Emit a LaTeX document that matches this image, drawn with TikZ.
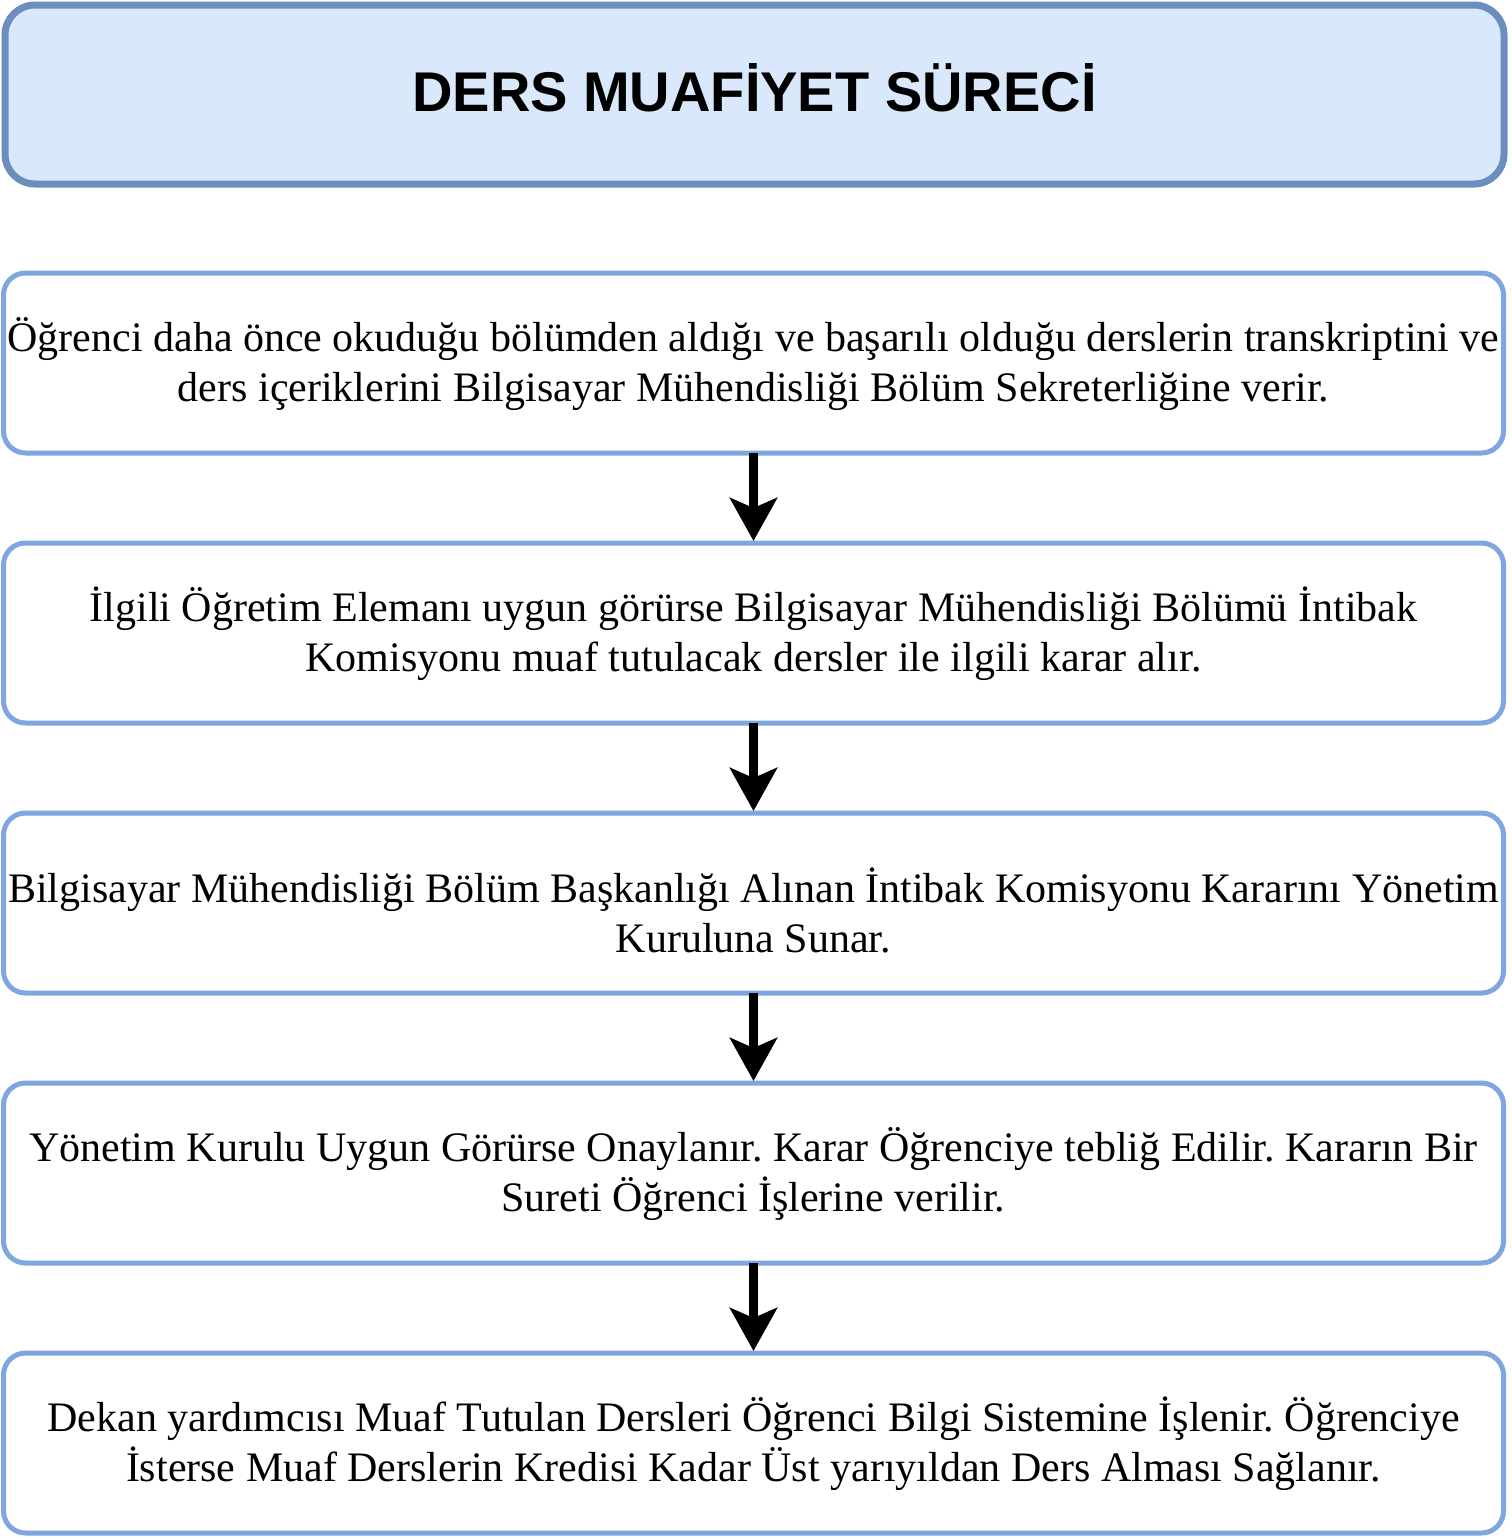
\documentclass[tikz,border=0pt]{standalone}
\usepackage{fontspec}
\setmainfont{Liberation Serif}
\newfontfamily\titlefont{Liberation Sans}
\usetikzlibrary{arrows.meta}
\definecolor{titlefill}{HTML}{DAE8FC}
\definecolor{titleline}{HTML}{6C8EBF}
\definecolor{boxline}{HTML}{7EA6E0}
\tikzset{
  titlebox/.style={draw=titleline,fill=titlefill,line width=7pt,rounded corners=30pt,
    minimum width=1499pt,minimum height=179pt,outer sep=0pt,inner sep=0pt,
    text height=40pt,text depth=7pt,
    font=\titlefont\bfseries\fontsize{56}{64}\selectfont},
  stepbox/.style={draw=boxline,fill=white,line width=5pt,rounded corners=22pt,
    minimum width=1500pt,minimum height=180pt,outer sep=0pt,inner sep=0pt,align=center,
    text height=88pt,text depth=12pt,
    font=\fontsize{42}{50}\selectfont},
  flowarrow/.style={line width=8.5pt,-{Stealth[length=43pt,width=47pt,inset=10pt]},shorten >=2pt}
}
\frenchspacing
\begin{document}
\begin{tikzpicture}[x=1pt,y=-1pt]
      \useasboundingbox (0,0) rectangle (1512,1539);
      \node[titlebox] (title) at (754.5,94.5) {DERS MUAFİYET SÜRECİ};
      \node[stepbox] (s1) at (753.5,363) {Öğrenci daha önce okuduğu bölümden aldığı ve başarılı olduğu derslerin transkriptini ve\\ders içeriklerini Bilgisayar Mühendisliği Bölüm Sekreterliğine verir.};
      \node[stepbox] (s2) at (753.5,633) {İlgili Öğretim Elemanı uygun görürse Bilgisayar Mühendisliği Bölümü İntibak\\Komisyonu muaf tutulacak dersler ile ilgili karar alır.};
      \node[stepbox,text height=99pt,text depth=1pt] (s3) at (753.5,903) {Bilgisayar Mühendisliği Bölüm Başkanlığı Alınan İntibak Komisyonu Kararını Yönetim\\Kuruluna Sunar.};
      \node[stepbox] (s4) at (753.5,1173) {Yönetim Kurulu Uygun Görürse Onaylanır. Karar Öğrenciye tebliğ Edilir. Kararın Bir\\Sureti Öğrenci İşlerine verilir.};
      \node[stepbox] (s5) at (753.5,1443) {Dekan yardımcısı Muaf Tutulan Dersleri Öğrenci Bilgi Sistemine İşlenir. Öğrenciye\\İsterse Muaf Derslerin Kredisi Kadar Üst yarıyıldan Ders Alması Sağlanır.};
      \foreach \a/\b in {s1/s2,s2/s3,s3/s4,s4/s5}
        \draw[flowarrow] (\a.south) -- (\b.north);
    \end{tikzpicture}
\end{document}
